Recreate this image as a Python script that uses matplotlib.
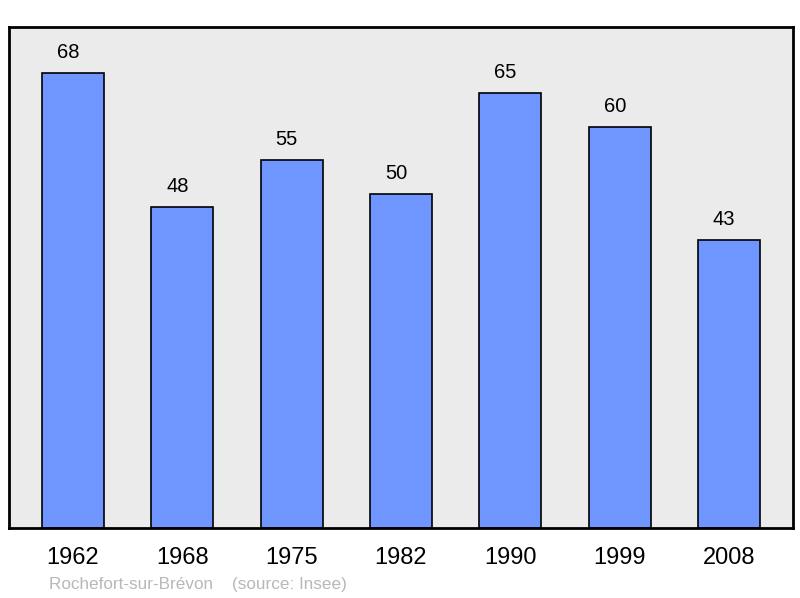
import matplotlib.pyplot as plt

plt.rcParams['font.family'] = ['Liberation Sans', 'DejaVu Sans']

years = ['1962', '1968', '1975', '1982', '1990', '1999', '2008']
population = [68, 48, 55, 50, 65, 60, 43]

fig = plt.figure(figsize=(8.0, 5.98), dpi=100)
ax = fig.add_axes([9 / 800, 1 - 528 / 598, 784 / 800, 501 / 598])
ax.set_facecolor('#ebebeb')

x = range(len(years))
bars = ax.bar(x, population, width=0.567, color='#6f96ff', edgecolor='black', linewidth=1.2, zorder=2)
# labels sit a little left of the bar centre, as in the original
for b, v in zip(bars, population):
    ax.text(b.get_x() + b.get_width() / 2 - 0.045, v + 1.65, str(v), ha='center', va='bottom', fontsize=14.5)

ax.set_xlim(-0.585, len(years) - 1 + 0.585)
ax.set_ylim(0, 74.9)
ax.set_xticks(list(x))
ax.set_xticklabels(years, fontsize=17)
ax.tick_params(axis='x', length=0, pad=14)
ax.set_yticks([])
for s in ax.spines.values():
    s.set_linewidth(2)
    s.set_color('black')

fig.text(49 / 800, 1 - 584 / 598, 'Rochefort-sur-Brévon    (source: Insee)', fontsize=12.3, color='#b8b8b8', va='center', ha='left')

fig.savefig('out.png', dpi=100)
